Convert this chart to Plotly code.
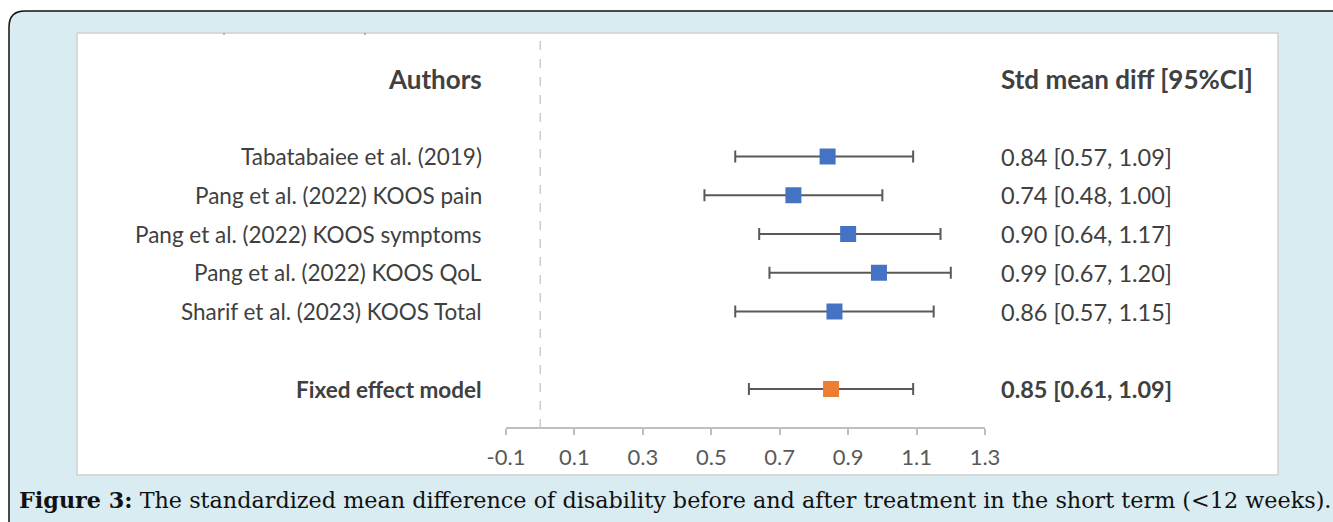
import plotly.graph_objects as go

# ---- data ----
studies = ["Tabatabaiee et al. (2019)", "Pang et al. (2022) KOOS pain",
           "Pang et al. (2022) KOOS symptoms", "Pang et al. (2022) KOOS QoL",
           "Sharif et al. (2023) KOOS Total"]
smd = [0.84, 0.74, 0.90, 0.99, 0.86]
ci_lo = [0.57, 0.48, 0.64, 0.67, 0.57]
ci_hi = [1.09, 1.00, 1.17, 1.20, 1.15]
pooled_label = "Fixed effect model"
pooled = [0.85]
pooled_lo = [0.61]
pooled_hi = [1.09]
x_ticks = [-0.1, 0.1, 0.3, 0.5, 0.7, 0.9, 1.1, 1.3]
header_left = "Authors"
header_right = "Std mean diff [95%CI]"
caption_bold = "Figure 3:"
caption_text = " The standardized mean difference of disability before and after treatment in the short term (<12 weeks)."

W, H = 1333, 522
study_rows = [2, 3, 4, 5, 6]
pooled_row = [8]
header_row = 0

# pixel mapping of row units
row0_px, row_step = 79.0, 38.75
y_top = -row0_px / row_step
y_bot = (H - row0_px) / row_step

def px(x):
    return x / W

def py(y):
    return 1 - y / H

fig = go.Figure()

fig.add_trace(go.Scatter(
    x=smd, y=study_rows, mode="markers",
    marker=dict(symbol="square", size=16, color="#4472C4"),
    error_x=dict(type="data", symmetric=False,
                 array=[h - m for h, m in zip(ci_hi, smd)],
                 arrayminus=[m - l for m, l in zip(smd, ci_lo)],
                 color="#595959", thickness=2, width=6),
    showlegend=False, hoverinfo="skip"))

fig.add_trace(go.Scatter(
    x=pooled, y=pooled_row, mode="markers",
    marker=dict(symbol="square", size=16, color="#ED7D31"),
    error_x=dict(type="data", symmetric=False,
                 array=[h - m for h, m in zip(pooled_hi, pooled)],
                 arrayminus=[m - l for m, l in zip(pooled, pooled_lo)],
                 color="#595959", thickness=2, width=6),
    showlegend=False, hoverinfo="skip"))

font_main = "Lato, 'Open Sans', sans-serif"
txt_col = "#404040"
fs_left = 22.5
fs_right = 23.5
fs_head = 26

ann = []
ann.append(dict(x=px(484), y=header_row, xref="paper", yref="y", text="<b>%s</b>" % header_left,
                xanchor="right", yanchor="middle", showarrow=False,
                font=dict(family=font_main, size=fs_head, color=txt_col)))
ann.append(dict(x=px(999), y=header_row, xref="paper", yref="y", text="<b>%s</b>" % header_right,
                xanchor="left", yanchor="middle", showarrow=False,
                font=dict(family=font_main, size=fs_head, color=txt_col)))
for s, r, m, l, h in zip(studies, study_rows, smd, ci_lo, ci_hi):
    ann.append(dict(x=px(484), y=r, xref="paper", yref="y", text=s,
                    xanchor="right", yanchor="middle", showarrow=False,
                    font=dict(family=font_main, size=fs_left, color=txt_col)))
    ann.append(dict(x=px(999), y=r, xref="paper", yref="y",
                    text="%.2f [%.2f, %.2f]" % (m, l, h),
                    xanchor="left", yanchor="middle", showarrow=False,
                    font=dict(family=font_main, size=fs_right, color=txt_col)))
for r, m, l, h in zip(pooled_row, pooled, pooled_lo, pooled_hi):
    ann.append(dict(x=px(484), y=r, xref="paper", yref="y", text="<b>%s</b>" % pooled_label,
                    xanchor="right", yanchor="middle", showarrow=False,
                    font=dict(family=font_main, size=fs_left, color=txt_col)))
    ann.append(dict(x=px(999), y=r, xref="paper", yref="y",
                    text="<b>%.2f [%.2f, %.2f]</b>" % (m, l, h),
                    xanchor="left", yanchor="middle", showarrow=False,
                    font=dict(family=font_main, size=fs_right, color=txt_col)))
ann.append(dict(x=px(17), y=py(500), xref="paper", yref="paper",
                text="<b>%s</b>%s" % (caption_bold, caption_text),
                xanchor="left", yanchor="middle", showarrow=False,
                font=dict(family="'DejaVu Serif', serif", size=22.3, color="#111111")))

# frame with rounded corner
r = 16
x0, y0, x1, y1 = 9, 11, 1345, 540
path = ("M %f,%f L %f,%f L %f,%f L %f,%f L %f,%f Q %f,%f %f,%f Z" % (
    px(x0), py(y0 + r), px(x0), py(y1), px(x1), py(y1), px(x1), py(y0),
    px(x0 + r), py(y0), px(x0), py(y0), px(x0), py(y0 + r)))
shapes = [
    dict(type="path", path=path, xref="paper", yref="paper",
         fillcolor="#D9ECF1", line=dict(color="#111111", width=1.5), layer="below"),
    dict(type="rect", xref="paper", yref="paper", x0=px(77), x1=px(1278), y0=py(33), y1=py(475),
         fillcolor="#FFFFFF", line=dict(color="#D0D0D0", width=1.5), layer="below"),
    dict(type="line", xref="x", yref="paper", x0=0, x1=0, y0=py(428), y1=py(34),
         line=dict(color="#BFBFBF", width=1.2, dash="dash"), layer="below"),
    dict(type="line", xref="paper", yref="paper", x0=px(224), x1=px(224), y0=py(33), y1=py(35),
         line=dict(color="#777777", width=1), layer="above"),
    dict(type="line", xref="paper", yref="paper", x0=px(365), x1=px(365), y0=py(33), y1=py(35),
         line=dict(color="#777777", width=1), layer="above"),
]

fig.update_layout(
    width=W, height=H, margin=dict(l=0, r=0, t=0, b=0, pad=0, autoexpand=False),
    paper_bgcolor="#FFFFFF", plot_bgcolor="rgba(0,0,0,0)",
    xaxis=dict(range=[-0.1, 1.3], domain=[px(506), px(985)], anchor="free", position=py(428),
               tickvals=x_ticks, ticktext=["%.1f" % t for t in x_ticks],
               showline=True, linecolor="#BFBFBF", linewidth=1.5,
               ticks="outside", ticklen=6, tickwidth=1.5, tickcolor="#BFBFBF",
               ticklabelstandoff=4, automargin=False,
               showgrid=False, zeroline=False,
               tickfont=dict(family=font_main, size=22, color="#595959")),
    yaxis=dict(range=[y_bot, y_top], domain=[0, 1], visible=False, automargin=False,
               showgrid=False, zeroline=False),
    annotations=ann, shapes=shapes,
)

fig.write_html("out.html", config={"responsive": False, "displayModeBar": False},
               post_script="document.body.style.margin='0';document.body.style.overflow='hidden';")
